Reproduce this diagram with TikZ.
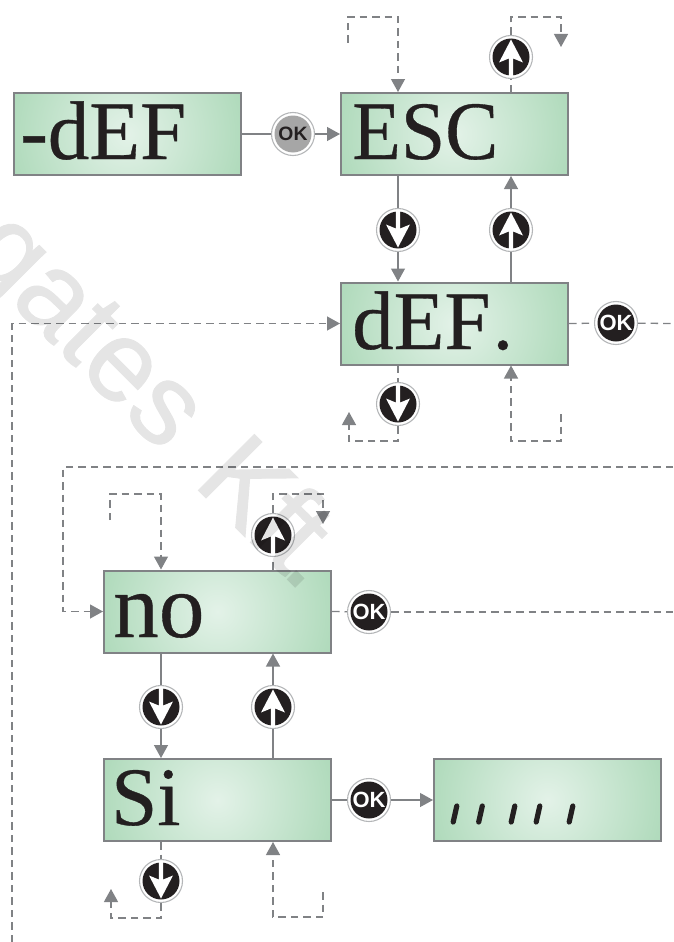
\documentclass[tikz,border=0pt]{standalone}
\usepackage{fontspec}
\setmainfont{Liberation Serif}[FakeBold=0.4]
\newfontfamily\wmfont{Liberation Sans}[FakeBold=0.8]
\newfontfamily\okfont{Liberation Sans Bold}
\usetikzlibrary{arrows.meta}
\definecolor{lineg}{HTML}{808285}
\definecolor{lcdout}{HTML}{ADD9B9}
\definecolor{lcdin}{HTML}{E3F2E8}
\definecolor{ink}{HTML}{231F20}
\definecolor{ring}{HTML}{B4B6B8}
\newcommand{\arrowglyph}[1]{%
  \fill[ink] (path picture bounding box.center) circle (18.5pt);
  \begin{scope}[shift={(path picture bounding box.center)}]
    \fill[white] (0,-17.5*#1) -- (12,5.5*#1) -- (2.2,1.5*#1) -- (2.2,19*#1) -- (-2.2,19*#1) -- (-2.2,1.5*#1) -- (-12,5.5*#1) -- cycle;
  \end{scope}}
\tikzset{
  lcd/.style={rectangle,draw=lineg,line width=2pt,minimum width=227pt,minimum height=82pt,inner sep=0pt,fill=lcdout,
    path picture={\shade[inner color=lcdin,outer color=lcdout] (path picture bounding box.center) circle (125pt);}},
  lcdtext/.style={anchor=base west,inner sep=0pt,font=\fontsize{83}{83}\selectfont,text=ink},
  conn/.style={draw=lineg,line width=1.3pt},
  dashconn/.style={conn,dash pattern=on 7.5pt off 5pt},
  arr/.style={-{Triangle[length=13pt,width=14pt,color=lineg]}},
  btn/.style={circle,draw=ring,line width=1.1pt,fill=white,minimum size=43pt,inner sep=0pt},
  okbtn/.style 2 args={btn,text=#2,font=\okfont\fontsize{22}{22}\selectfont,
    path picture={\fill[#1] (path picture bounding box.center) circle (18.5pt);}},
  upbtn/.style={btn,path picture={\arrowglyph{1}}},
  downbtn/.style={btn,path picture={\arrowglyph{-1}}},
}
\begin{document}
\begin{tikzpicture}[x=1pt,y=-1pt]
\useasboundingbox (0,0) rectangle (673,942);
% LCD boxes
\node[lcd] (def0) at (127,134) {};
\node[lcd] (esc) at (454.5,134) {};
\node[lcd] (def1) at (454.5,323.5) {};
\node[lcd] (no) at (217.5,611.5) {};
\node[lcd] (si) at (217.5,800) {};
\node[lcd] (blank) at (547.5,800) {};
\node[lcdtext] (t0) at (20,159) {-dEF};
\node[lcdtext] (t1) at (352,159) {\scalebox{.96}[1]{ESC}};
\node[lcdtext] (t2) at (352,349) {dEF\kern2pt.};
\node[lcdtext] (t3) at (113,637) {\scalebox{1.1}{no}};
\node[lcdtext] (t4) at (111,825) {Si};
% buttons
\node[okbtn={black!35}{ink}] (ok0) at (293,134) {\scalebox{.88}{OK}};
\node[downbtn] (d1) at (398,230) {};
\node[upbtn] (u1) at (511,230) {};
\node[upbtn] (u0) at (511,57) {};
\node[okbtn={ink}{white}] (ok1) at (616,323) {OK};
\node[downbtn] (d2) at (398,404) {};
\node[upbtn] (u2) at (273,535) {};
\node[okbtn={ink}{white}] (ok2) at (369,612) {OK};
\node[downbtn] (d3) at (161,707) {};
\node[upbtn] (u3) at (273,707) {};
\node[okbtn={ink}{white}] (ok3) at (369,800) {OK};
\node[downbtn] (d4) at (161,881) {};
% free ends
\coordinate (a1) at (348,43);
\coordinate (a2) at (348,17);
\coordinate (a3) at (398,17);
\coordinate (b1) at (511,17);
\coordinate (b2) at (561,17);
\coordinate (b3) at (561,47);
\coordinate (c1) at (12,942);
\coordinate (c2) at (12,323.5);
\coordinate (e1) at (673,323.5);
\coordinate (f1) at (398,441);
\coordinate (f2) at (349,441);
\coordinate (f3) at (349,412);
\coordinate (g1) at (561,414);
\coordinate (g2) at (561,441);
\coordinate (g3) at (511,441);
\coordinate (h1) at (673,467);
\coordinate (h2) at (63,467);
\coordinate (h3) at (63,611.5);
\coordinate (i1) at (110,520);
\coordinate (i2) at (110,494);
\coordinate (i3) at (161,494);
\coordinate (j1) at (273,494);
\coordinate (j2) at (323,494);
\coordinate (j3) at (323,524);
\coordinate (k1) at (673,612);
\coordinate (l1) at (161,918);
\coordinate (l2) at (111,918);
\coordinate (l3) at (111,889);
\coordinate (m1) at (323,892);
\coordinate (m2) at (323,917);
\coordinate (m3) at (273,917);
% solid connectors
\draw[conn] (def0.east) -- (ok0);
\draw[conn,arr] (ok0) -- (esc.west);
\draw[conn] (esc.south -| d1) -- (d1);
\draw[conn,arr] (d1) -- (def1.north -| d1);
\draw[conn] (def1.north -| u1) -- (u1);
\draw[conn,arr] (u1) -- (esc.south -| u1);
\draw[conn] (no.south -| d3) -- (d3);
\draw[conn,arr] (d3) -- (si.north -| d3);
\draw[conn] (si.north -| u3) -- (u3);
\draw[conn,arr] (u3) -- (no.south -| u3);
\draw[conn] (si.east) -- (ok3);
\draw[conn,arr] (ok3) -- (blank.west);
% dashed connectors
\draw[dashconn,arr] (a1) -- (a2) -- (a3) -- (esc.north -| a3);
\draw[dashconn] (esc.north -| u0) -- (u0);
\draw[dashconn,arr] (u0) -- (b1) -- (b2) -- (b3);
\draw[dashconn,arr] (c1) -- (c2) -- (def1.west);
\draw[dashconn] (def1.east) -- (ok1);
\draw[dashconn] (ok1) -- (e1);
\draw[dashconn] (def1.south -| d2) -- (d2);
\draw[dashconn,arr] (d2) -- (f1) -- (f2) -- (f3);
\draw[dashconn,arr] (g1) -- (g2) -- (g3) -- (def1.south -| g3);
\draw[dashconn,arr] (h1) -- (h2) -- (h3) -- (no.west);
\draw[dashconn,arr] (i1) -- (i2) -- (i3) -- (no.north -| i3);
\draw[dashconn] (no.north -| u2) -- (u2);
\draw[dashconn,arr] (u2) -- (j1) -- (j2) -- (j3);
\draw[dashconn] (no.east) -- (ok2);
\draw[dashconn] (ok2) -- (k1);
\draw[dashconn] (si.south -| d4) -- (d4);
\draw[dashconn,arr] (d4) -- (l1) -- (l2) -- (l3);
\draw[dashconn,arr] (m1) -- (m2) -- (m3) -- (si.south -| m3);
% marks on the blank display
\foreach \x in {455,480.5,513,538,571}
  \draw[ink,line width=5.2pt,line cap=round] (\x-1.8,822) -- (\x+1.8,806);
% watermark
\begin{scope}[transparency group,opacity=.1]
\node[rotate=-45,anchor=base west,text=black,font=\wmfont\fontsize{115}{115}\selectfont,inner sep=0pt] (wmark) at (-37,255) {gates\kern42pt K\kern-4pt f\kern-4pt t\kern-8pt.};
\end{scope}
\end{tikzpicture}
\end{document}
